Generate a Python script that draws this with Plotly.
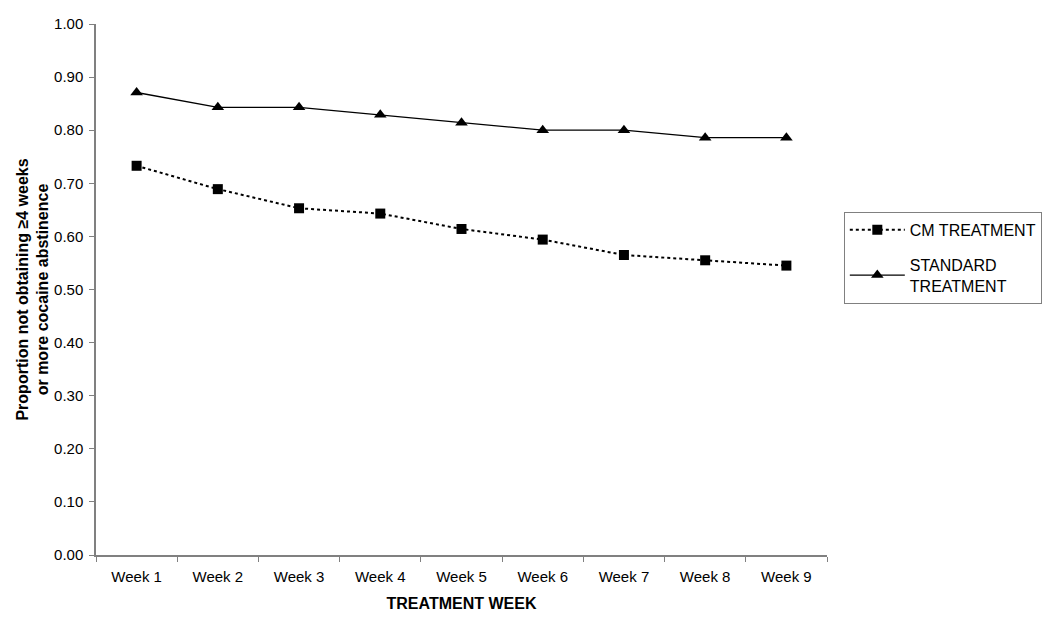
import plotly.graph_objects as go

weeks = ["Week 1", "Week 2", "Week 3", "Week 4", "Week 5", "Week 6", "Week 7", "Week 8", "Week 9"]
cm_treatment = [0.733, 0.689, 0.653, 0.643, 0.614, 0.594, 0.565, 0.555, 0.545]
standard_treatment = [0.871, 0.843, 0.843, 0.829, 0.814, 0.800, 0.800, 0.786, 0.786]
y_ticks = [0.0, 0.1, 0.2, 0.3, 0.4, 0.5, 0.6, 0.7, 0.8, 0.9, 1.0]

FONT = "Liberation Sans, Arial, sans-serif"

fig = go.Figure()
fig.add_trace(go.Scatter(
    x=weeks, y=cm_treatment, name="CM TREATMENT", mode="lines+markers",
    legendgroup="cm",
    line=dict(color="black", width=2, dash="dot"),
    marker=dict(symbol="square", size=10, color="black"),
))
fig.add_trace(go.Scatter(
    x=weeks, y=standard_treatment, name="STANDARD<br>TREATMENT", mode="lines+markers",
    legendgroup="std",
    line=dict(color="black", width=1.3),
    marker=dict(symbol="triangle-up", size=11, color="black"),
))

fig.update_layout(
    width=1042, height=613,
    margin=dict(l=88, r=223, t=16, b=66, autoexpand=False),
    paper_bgcolor="white", plot_bgcolor="white",
    font=dict(family=FONT, size=15, color="black"),
    showlegend=True,
    legend=dict(
        x=1.023, y=0.646, xanchor="left", yanchor="top",
        bordercolor="#808080", borderwidth=1,
        font=dict(family=FONT, size=16, color="black"),
        traceorder="grouped",
        tracegroupgap=11,
        itemwidth=55,
    ),
    xaxis=dict(
        type="category", tickson="boundaries", automargin=False,
        showline=True, linecolor="#808080", linewidth=1.5,
        ticks="outside", ticklen=5, tickcolor="#808080",
        ticklabelstandoff=7,
        showgrid=False, zeroline=False,
        range=[-0.5, 8.5],
        title=dict(text="<b>TREATMENT WEEK</b>", font=dict(family=FONT, size=16), standoff=14),
    ),
    yaxis=dict(
        range=[0, 1.0], tickvals=y_ticks, tickformat=".2f", automargin=False,
        showline=True, linecolor="#808080", linewidth=1.5,
        ticks="outside", ticklen=5, tickcolor="#808080",
        ticklabelstandoff=3,
        showgrid=False, zeroline=False,
        title=dict(text="<b>Proportion not obtaining ≥4 weeks<br>or more cocaine abstinence</b>",
                   font=dict(family=FONT, size=16), standoff=1),
    ),
)

fig.write_html("out.html")
